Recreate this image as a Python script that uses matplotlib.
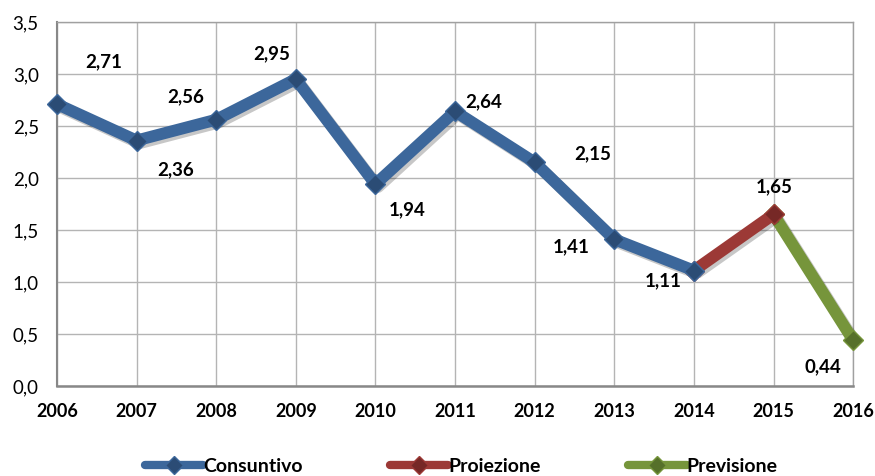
import matplotlib.pyplot as plt
import matplotlib.patheffects as pe

plt.rcParams['font.family'] = ['Lato', 'DejaVu Sans']

# Data
years = [2006, 2007, 2008, 2009, 2010, 2011, 2012, 2013, 2014, 2015, 2016]
cons_years = [2006, 2007, 2008, 2009, 2010, 2011, 2012, 2013, 2014]
cons_vals = [2.71, 2.36, 2.56, 2.95, 1.94, 2.64, 2.15, 1.41, 1.11]
proi_years = [2014, 2015]
proi_vals = [1.11, 1.65]
prev_years = [2015, 2016]
prev_vals = [1.65, 0.44]
series_names = ['Consuntivo', 'Proiezione', 'Previsione']
y_ticks = [0.0, 0.5, 1.0, 1.5, 2.0, 2.5, 3.0, 3.5]

# label values and their pixel offsets from the point
label_years = [2006, 2007, 2008, 2009, 2010, 2011, 2012, 2013, 2014, 2015, 2016]
label_vals = [2.71, 2.36, 2.56, 2.95, 1.94, 2.64, 2.15, 1.41, 1.11, 1.65, 0.44]
label_offsets = [(47, 42), (39, -29), (-30, 23), (-24, 25), (32, -26), (29, 10),
                 (58, 9), (-43, -7), (-31, -10), (1, 28), (-30, -26)]

colors = ['#3C679B', '#9C3936', '#76953B']
marker_colors = ['#2B4C75', '#762826', '#56702A']

fig = plt.figure(figsize=(8.75, 4.76), dpi=100)
ax = fig.add_axes([0.065, 0.189, 0.91, 0.765])

shadow = [pe.SimpleLineShadow(offset=(2, -2), shadow_color='k', alpha=0.22), pe.Normal()]

data = [(cons_years, cons_vals), (proi_years, proi_vals), (prev_years, prev_vals)]
zorders = [5, 4, 3]
for (xs, ys), name, c, mc, z in zip(data, series_names, colors, marker_colors, zorders):
    ax.plot(xs, ys, color=c, lw=8.5, solid_capstyle='butt', zorder=z, clip_on=False,
            path_effects=shadow)
    ax.plot(xs, ys, ls='none', marker='D', markersize=10, markerfacecolor=mc,
            markeredgecolor=c, markeredgewidth=1, zorder=z + 0.5, clip_on=False)

for x, v, off in zip(label_years, label_vals, label_offsets):
    ax.annotate(f'{v:.2f}'.replace('.', ','), (x, v), xytext=off, textcoords='offset pixels',
                ha='center', va='center', fontsize=13.5, fontweight='bold', zorder=6)

ax.set_xlim(2006, 2016)
ax.set_ylim(0, 3.5)
ax.set_xticks(years)
ax.set_xticklabels([str(y) for y in years], fontsize=13, fontweight='bold')
ax.set_yticks(y_ticks)
ax.set_yticklabels([f'{t:.1f}'.replace('.', ',') for t in y_ticks], fontsize=13.5)
ax.tick_params(axis='x', length=0, pad=12)
ax.tick_params(axis='y', length=0, pad=13)
ax.grid(True, color='#B4B4B4', lw=1)
ax.set_axisbelow(True)
for s in ax.spines.values():
    s.set_color('#A0A0A0')
    s.set_linewidth(1)
ax.spines['bottom'].set_color('#888888')
ax.spines['bottom'].set_linewidth(1.8)
ax.spines['left'].set_color('#888888')
ax.spines['left'].set_linewidth(1.5)

leg_handles = []
for name, c, mc in zip(series_names, colors, marker_colors):
    lh, = ax.plot([], [], color=c, lw=6, marker='D', markersize=9,
                  markerfacecolor=mc, markeredgecolor=c, solid_capstyle='round', label=name)
    leg_handles.append(lh)
fig.legend(handles=leg_handles, loc='lower center', bbox_to_anchor=(0.527, -0.035), ncol=3,
           frameon=False, handlelength=3.0, columnspacing=4.5, handletextpad=0.0,
           prop={'weight': 'bold', 'size': 14})

plt.savefig('out.png', dpi=100)
